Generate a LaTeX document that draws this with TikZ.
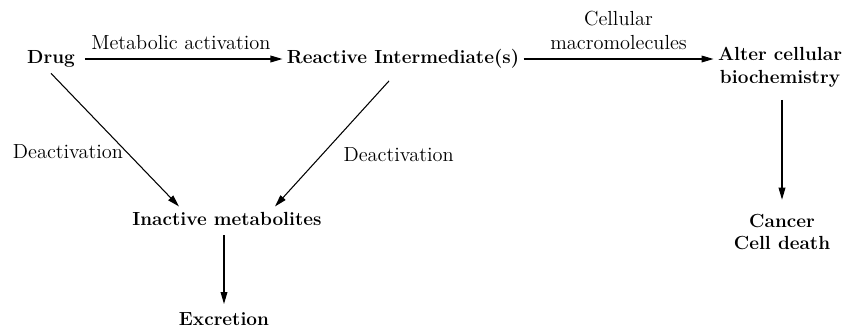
\documentclass[tikz,border=0pt]{standalone}
\usepackage{tikz}
\usetikzlibrary{arrows.meta,positioning,calc}

\begin{document}
\begin{tikzpicture}[
  every node/.style={font=\fontsize{14.5pt}{16pt}\selectfont, inner sep=3pt},
  stage/.style={font=\fontsize{13.5pt}{16pt}\selectfont\bfseries, align=center},
  oneline/.style={text height=10.5pt, text depth=3.5pt},
  lbl/.style={font=\fontsize{14.5pt}{17pt}\selectfont, align=center},
  flow/.style={-{Triangle[length=8.5pt,width=4.8pt]}, line width=0.75pt}
]
\useasboundingbox (0,0) rectangle (21.225,-8.225);

% top row: drug -> reactive intermediate -> altered biochemistry
\node[stage, oneline] (drug) at (1.275,-1.475) {Drug};
\node[stage, oneline] (ri) at (10.075,-1.475) {Reactive Intermediate(s)};
\node[stage] (alter) at (19.5,-1.68) {Alter cellular\\biochemistry};

% lower row
\node[stage, oneline] (inactive) at (5.675,-5.52) {Inactive metabolites};
\node[stage] (excretion) at (5.6,-7.98) {Excretion};
\node[stage] (cancer) at (19.55,-5.8) {Cancer\\Cell death};

% activation path
\draw[flow, shorten <=4pt] (drug.east) -- (ri.west)
  node[lbl, midway, above=3pt] {Metabolic activation};
\draw[flow] (ri.east) -- (ri -| alter.west)
  node[lbl, midway, above=3.5pt] {Cellular\\macromolecules};
\draw[flow, shorten <=6pt, shorten >=7pt] (alter.south -| cancer) -- (cancer.north);

% deactivation path
\draw[flow] (drug.south) -- ([xshift=-1.2cm]inactive.north)
  node[lbl, oneline, pos=0.6, left] {Deactivation};
\draw[flow] ([xshift=-0.35cm,yshift=-0.19cm]ri.south) -- ([xshift=1.2cm]inactive.north)
  node[lbl, oneline, pos=0.6, right=13pt] {Deactivation};
\draw[flow, shorten >=3pt] (inactive.south -| excretion) -- (excretion.north);
\end{tikzpicture}
\end{document}
